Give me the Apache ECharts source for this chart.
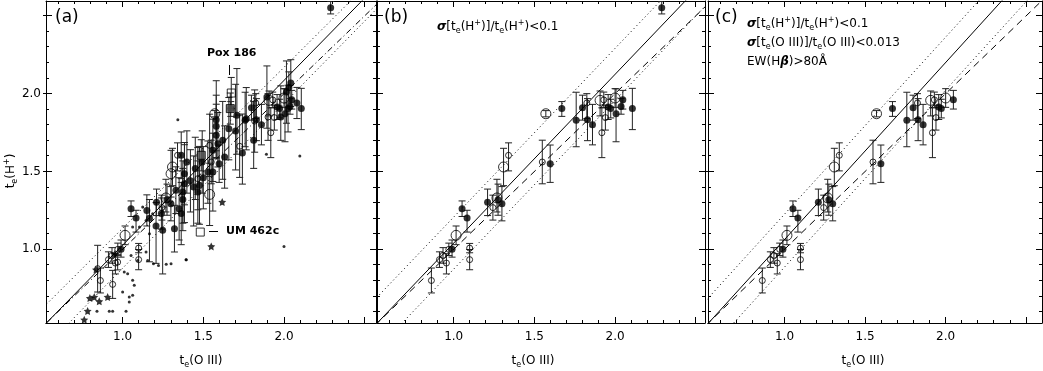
<!DOCTYPE html>
<html>
<head>
<meta charset="utf-8">
<script src="https://cdn.jsdelivr.net/npm/echarts@6/dist/echarts.min.js"></script>
<style>
  html, body { margin: 0; padding: 0; background: #fff; }
  #chart { width: 1043px; height: 371px; }
</style>
</head>
<body>
<div id="chart"></div>
<script>
// ---- data: [te(O III), te(H+), err down, err up] ----
// points shown in all three panels
const coreFilled = [
  [1.670, 1.904, 0.05, 0.045], [1.759, 1.829, 0.17, 0.18], [1.798, 1.910, 0.08, 0.08],
  [1.829, 1.833, 0.135, 0.135], [1.860, 1.801, 0.13, 0.13], [1.957, 1.914, 0.08, 0.08],
  [1.973, 1.904, 0.06, 0.06], [2.048, 1.961, 0.06, 0.06], [1.598, 1.550, 0.12, 0.12],
  [1.052, 1.261, 0.05, 0.05], [1.083, 1.201, 0.09, 0.05], [1.210, 1.302, 0.085, 0.085],
  [1.275, 1.319, 0.10, 0.10], [1.299, 1.293, 0.11, 0.11], [0.990, 1.000, 0.05, 0.06]
];
const coreOpenBig = [
  [1.571, 1.871, 0.02, 0.02], [1.907, 1.957, 0.10, 0.06], [2.000, 1.972, 0.06, 0.06],
  [1.309, 1.529, 0.12, 0.12], [1.268, 1.330, 0.09, 0.12], [1.015, 1.090, 0.06, 0.06]
];
const coreOpenSmall = [
  [1.825, 1.940, 0.10, 0.06], [1.930, 1.960, 0.05, 0.05], [1.940, 1.846, 0.08, 0.08],
  [1.918, 1.749, 0.16, 0.16], [1.340, 1.604, 0.10, 0.08], [1.549, 1.561, 0.14, 0.14],
  [1.243, 1.268, 0.08, 0.08], [0.970, 1.000, 0.04, 0.04], [1.099, 1.008, 0.03, 0.03],
  [1.099, 0.934, 0.065, 0.065], [0.955, 0.912, 0.07, 0.06], [0.912, 0.934, 0.05, 0.05],
  [0.934, 0.961, 0.05, 0.05], [0.862, 0.800, 0.08, 0.08]
];
// extra points in (a) and (b), dropped in (c)
const bExtraFilled = [
  [2.289, 2.552, 0.04, 0.04], [2.037, 1.918, 0.05, 0.05], [2.006, 1.871, 0.18, 0.16],
  [2.107, 1.904, 0.135, 0.13]
];
// points only in (a)
const aExtraFilled = [
  [1.580, 1.833, 0.20, 0.25], [1.580, 1.790, 0.20, 0.20], [1.708, 1.861, 0.25, 0.30],
  [1.658, 1.775, 0.20, 0.20], [1.766, 1.839, 0.20, 0.20], [1.894, 1.978, 0.20, 0.20],
  [1.980, 1.850, 0.15, 0.20], [2.042, 2.068, 0.15, 0.15], [2.030, 2.040, 0.10, 0.10],
  [2.015, 2.010, 0.20, 0.20], [2.080, 1.940, 0.10, 0.10], [2.025, 1.904, 0.15, 0.15],
  [1.580, 1.732, 0.15, 0.20], [1.590, 1.679, 0.15, 0.20], [1.559, 1.636, 0.20, 0.20],
  [1.632, 1.593, 0.20, 0.20], [1.742, 1.619, 0.20, 0.25], [1.812, 1.700, 0.18, 0.25],
  [1.528, 1.496, 0.20, 0.20], [1.559, 1.496, 0.25, 0.25], [1.493, 1.561, 0.20, 0.20],
  [1.476, 1.411, 0.25, 0.25], [1.466, 1.368, 0.20, 0.20], [1.383, 1.486, 0.20, 0.20],
  [1.383, 1.422, 0.25, 0.25], [1.373, 1.368, 0.20, 0.20], [1.398, 1.561, 0.20, 0.20],
  [1.248, 1.122, 0.28, 0.15], [1.321, 1.133, 0.15, 0.15], [1.363, 1.604, 0.15, 0.15],
  [1.373, 1.320, 0.20, 0.20], [1.420, 1.440, 0.20, 0.20], [1.440, 1.400, 0.25, 0.20],
  [1.330, 1.380, 0.15, 0.15], [1.240, 1.230, 0.10, 0.10], [1.166, 1.200, 0.28, 0.12],
  [1.150, 1.250, 0.10, 0.10], [1.350, 1.260, 0.20, 0.20], [1.500, 1.460, 0.20, 0.20],
  [1.450, 1.520, 0.20, 0.20], [1.620, 1.700, 0.25, 0.25], [1.700, 1.760, 0.25, 0.30],
  [1.207, 1.150, 0.24, 0.15], [1.363, 1.230, 0.20, 0.20]
];
const aExtraOpenBig = [
  [1.539, 1.353, 0.20, 0.20], [1.300, 1.486, 0.15, 0.15]
];
const aExtraOpenSmall = [
  [1.539, 1.668, 0.20, 0.20], [1.725, 1.662, 0.20, 0.20], [1.818, 1.824, 0.20, 0.20],
  [1.901, 1.850, 0.15, 0.15], [1.466, 1.454, 0.20, 0.20], [0.845, 0.876, 0.15, 0.15],
  [0.938, 0.775, 0.09, 0.09], [0.969, 0.918, 0.05, 0.05]
];
const aDots = [
  [0.841, 0.602], [0.917, 0.602], [0.938, 0.602], [1.021, 0.602], [1.000, 0.726],
  [1.041, 0.694], [1.041, 0.662], [1.062, 0.705], [1.010, 0.855], [1.031, 0.844],
  [1.062, 0.801], [1.072, 0.769], [1.093, 0.929], [1.145, 0.983], [1.155, 0.929],
  [1.191, 0.908], [1.222, 0.897], [1.270, 0.904], [1.300, 0.908], [1.393, 0.934],
  [1.052, 0.961], [1.124, 1.272], [1.145, 1.186], [1.104, 1.143], [1.166, 1.100],
  [1.186, 1.229], [1.062, 1.143], [1.891, 1.610], [2.098, 1.599], [2.000, 1.019],
  [1.394, 0.934], [1.342, 1.833]
];
const aStars = [
  [0.835, 0.870], [0.797, 0.687], [0.824, 0.694], [0.855, 0.666], [0.907, 0.694],
  [0.783, 0.604], [0.762, 0.548], [1.617, 1.304], [1.549, 1.019], [0.950, 0.970]
];
const aSquaresOpen = [[1.673, 2.004, 0.10, 0.10], [1.481, 1.111, 0, 0]];
const aSquaresFilled = [[1.667, 1.904, 0.10, 0.10], [1.487, 1.604, 0.10, 0.10]];

// fitted relations [slope, intercept] per panel: fit, upper, lower; plus y = x
const fitA = [[1.058, -0.031], [1.0335, 0.102], [1.058, -0.179]];
const fitB = [[1.084, -0.044], [1.084, 0.123], [1.084, -0.211]];
const fitC = [[1.137, -0.074], [1.137, 0.089], [1.137, -0.251]];
const oneToOne = [1, 0];

// ticks
const xMajor = [1.0, 1.5, 2.0, 2.5];
const xMinor = [0.6, 0.7, 0.8, 0.9, 1.1, 1.2, 1.3, 1.4, 1.6, 1.7, 1.8, 1.9, 2.1, 2.2, 2.3, 2.4];
const xLabels = [1.0, 1.5, 2.0];
const yMajor = [1.0, 1.5, 2.0, 2.5];
const yMinor = [0.6, 0.7, 0.8, 0.9, 1.1, 1.2, 1.3, 1.4, 1.6, 1.7, 1.8, 1.9, 2.1, 2.2, 2.3, 2.4];
const yLabels = [1.0, 1.5, 2.0];

const X_MIN = 0.525, Y_MIN = 0.527, Y_MAX = 2.595;
const FONT = '"DejaVu Sans", sans-serif';
const boxes = [
  {left: 46, width: 330, xMax: 2.57},
  {left: 377, width: 328, xMax: 2.557},
  {left: 708, width: 334, xMax: 2.598}
];

const chart = echarts.init(document.getElementById('chart'));
const grids = [], xAxes = [], yAxes = [], series = [];
const black = {color: '#000', width: 1};

function addAxes(g, box) {
  const xb = {type: 'value', gridIndex: g, min: X_MIN, max: box.xMax, splitLine: {show: false},
    axisTick: {show: false}, axisLabel: {show: false},
    axisLine: {show: true, onZero: false, lineStyle: black}};
  const yb = {type: 'value', gridIndex: g, min: Y_MIN, max: Y_MAX, splitLine: {show: false},
    axisTick: {show: false}, axisLabel: {show: false},
    axisLine: {show: true, onZero: false, lineStyle: black}};
  const xi = xAxes.length, yi = yAxes.length;
  xAxes.push(
    {...xb, position: 'bottom',
      axisLabel: {show: true, customValues: xLabels, formatter: v => v.toFixed(1), margin: 8,
        fontSize: 12, color: '#000', fontFamily: FONT}},
    {...xb, position: 'top'}
  );
  yAxes.push(
    {...yb, position: 'left',
      axisLabel: {show: g === 0, customValues: yLabels, formatter: v => v.toFixed(1), margin: 5,
        fontSize: 12, color: '#000', fontFamily: FONT}},
    {...yb, position: 'right'}
  );
  return [xi, yi];
}

// tick rows: [x value, y value, which axis (0 = x, 1 = y), major flag]
function tickRows() {
  const rows = [];
  xMajor.forEach(v => rows.push([v, 1.0, 0, 1]));
  xMinor.forEach(v => rows.push([v, 1.0, 0, 0]));
  yMajor.forEach(v => rows.push([1.0, v, 1, 1]));
  yMinor.forEach(v => rows.push([1.0, v, 1, 0]));
  return rows;
}

function tickSeries(xi, yi) {
  return {
    type: 'custom', xAxisIndex: xi, yAxisIndex: yi, clip: false, z: 5, silent: true,
    data: tickRows(), encode: {x: 0, y: 1},
    renderItem: (params, api) => {
      const cs = params.coordSys;
      const p = api.coord([api.value(0), api.value(1)]);
      const major = api.value(3) === 1, len = major ? 6 : 3, out = major ? 3 : 0;
      const st = {stroke: '#000', lineWidth: 1};
      const snap = v => Math.round(v - 0.5) + 0.5;
      const L = (x1, y1, x2, y2) => ({type: 'line', shape: {x1, y1, x2, y2}, style: st});
      if (api.value(2) === 0) {
        const x = snap(p[0]), b = cs.y + cs.height, t = cs.y;
        return {type: 'group', children: [L(x, b, x, b - len), L(x, t, x, t + len)]};
      }
      const y = snap(p[1]), l = cs.x, r = cs.x + cs.width;
      return {type: 'group', children: [L(l - out, y, l + len, y), L(r + out, y, r - len, y)]};
    }
  };
}

function errorBars(xi, yi, rows) {
  return {
    type: 'custom', xAxisIndex: xi, yAxisIndex: yi, clip: true, z: 2,
    data: rows, encode: {x: 0, y: 1}, silent: true,
    renderItem: (params, api) => {
      const x = api.value(0), y = api.value(1), lo = api.value(2), hi = api.value(3);
      if (!(lo + hi > 0)) return null;
      const a = api.coord([x, y - lo]), b = api.coord([x, y + hi]);
      const w = 3.5, st = {stroke: '#222', lineWidth: 1, fill: null};
      return {type: 'group', children: [
        {type: 'line', shape: {x1: a[0], y1: a[1], x2: b[0], y2: b[1]}, style: st},
        {type: 'line', shape: {x1: a[0] - w, y1: a[1], x2: a[0] + w, y2: a[1]}, style: st},
        {type: 'line', shape: {x1: b[0] - w, y1: b[1], x2: b[0] + w, y2: b[1]}, style: st}
      ]};
    }
  };
}

function marks(xi, yi, rows, symbol, size, style) {
  return {type: 'scatter', xAxisIndex: xi, yAxisIndex: yi, data: rows.map(r => [r[0], r[1]]),
    symbol, symbolSize: size, itemStyle: style, z: 3, silent: true, clip: true};
}

function relLine(xi, yi, p, type) {
  const xs = [0.3, 2.8];
  return {type: 'line', xAxisIndex: xi, yAxisIndex: yi, data: xs.map(x => [x, p[0] * x + p[1]]),
    symbol: 'none', clip: true, z: 4, silent: true,
    lineStyle: {color: '#000', width: 1, type}};
}

const STAR = 'path://M0,-10L2.9,-4L9.5,-3.1L4.7,1.5L5.9,8.1L0,5L-5.9,8.1L-4.7,1.5L-9.5,-3.1L-2.9,-4Z';
const filledStyle = {color: '#000'};
const openStyle = {color: 'rgba(0,0,0,0)', borderColor: '#000', borderWidth: 1};

const panelSets = [
  {filled: coreFilled.concat(bExtraFilled, aExtraFilled), big: coreOpenBig.concat(aExtraOpenBig),
    small: coreOpenSmall.concat(aExtraOpenSmall), extra: true, fit: fitA, refType: [6, 3, 1, 3]},
  {filled: coreFilled.concat(bExtraFilled), big: coreOpenBig, small: coreOpenSmall, fit: fitB, refType: [7, 5]},
  {filled: coreFilled, big: coreOpenBig, small: coreOpenSmall, fit: fitC, refType: [7, 5]}
];

boxes.forEach((box, g) => {
  grids.push({left: box.left, top: 1, width: box.width, height: 322, containLabel: false});
  const [xi, yi] = addAxes(g, box);
  const s = panelSets[g];
  const bars = s.filled.concat(s.big, s.small, s.extra ? aSquaresOpen.concat(aSquaresFilled) : []);
  series.push(tickSeries(xi, yi));
  series.push(errorBars(xi, yi, bars));
  series.push(relLine(xi, yi, s.fit[0], 'solid'));
  series.push(relLine(xi, yi, s.fit[1], [1, 3]));
  series.push(relLine(xi, yi, s.fit[2], [1, 3]));
  series.push(relLine(xi, yi, oneToOne, s.refType));
  series.push(marks(xi, yi, s.filled, 'circle', 7, filledStyle));
  series.push(marks(xi, yi, s.big, 'circle', 10, openStyle));
  series.push(marks(xi, yi, s.small, 'circle', 6, openStyle));
  if (s.extra) {
    series.push(marks(xi, yi, aDots, 'circle', 3, filledStyle));
    series.push(marks(xi, yi, aStars, STAR, 8, filledStyle));
    series.push(marks(xi, yi, aSquaresOpen, 'rect', 8, openStyle));
    series.push(marks(xi, yi, aSquaresFilled, 'rect', 8, {color: '#555', borderColor: '#000', borderWidth: 1}));
  }
});

const rich = {
  n: {fontSize: 12, fontFamily: FONT, color: '#000', lineHeight: 16},
  s: {fontSize: 8, fontFamily: FONT, color: '#000', lineHeight: 8, verticalAlign: 'bottom'},
  p: {fontSize: 8, fontFamily: FONT, color: '#000', lineHeight: 8, verticalAlign: 'top'},
  g: {fontSize: 12, fontFamily: FONT, color: '#000', lineHeight: 16, fontStyle: 'italic', fontWeight: 'bold'}
};
function txt(x, y, text, align, extra) {
  return Object.assign({type: 'text', x, y, silent: true, z: 10,
    style: {text, rich, align: align || 'left', verticalAlign: 'middle', fill: '#000'}}, extra || {});
}
function plain(x, y, text, font) {
  return {type: 'text', x, y, silent: true, z: 10,
    style: {text, font: font + ' ' + FONT, fill: '#000', verticalAlign: 'middle'}};
}
const teOIII = '{n|t}{s|e}{n|(O III)}';
const sigH = '{g|σ}{n|[t}{s|e}{n|(H}{p|+}{n|)]/t}{s|e}{n|(H}{p|+}{n|)<0.1}';
const graphics = [
  txt(201, 361, teOIII, 'center'), txt(533, 361, teOIII, 'center'), txt(863, 361, teOIII, 'center'),
  txt(11, 171, '{n|t}{s|e}{n|(H}{p|+}{n|)}', 'center', {rotation: Math.PI / 2}),
  plain(55, 18, '(a)', '17px'), plain(384, 18, '(b)', '17px'), plain(715, 18, '(c)', '17px'),
  txt(437, 27, sigH),
  txt(747, 24, sigH),
  txt(747, 43, '{g|σ}{n|[t}{s|e}{n|(O III)]/t}{s|e}{n|(O III)<0.013}'),
  txt(747, 62, '{n|EW(H}{g|β}{n|)>80Å}'),
  plain(207, 53, 'Pox 186', 'bold 11px'),
  {type: 'line', silent: true, shape: {x1: 229.5, y1: 65, x2: 229.5, y2: 75}, style: {stroke: '#000', lineWidth: 1}},
  plain(226, 231, 'UM 462c', 'bold 11px'),
  {type: 'line', silent: true, shape: {x1: 209, y1: 231.5, x2: 218, y2: 231.5}, style: {stroke: '#000', lineWidth: 1}}
];

chart.setOption({
  animation: false,
  backgroundColor: '#fff',
  grid: grids,
  xAxis: xAxes,
  yAxis: yAxes,
  series,
  graphic: graphics
});
</script>
</body>
</html>
